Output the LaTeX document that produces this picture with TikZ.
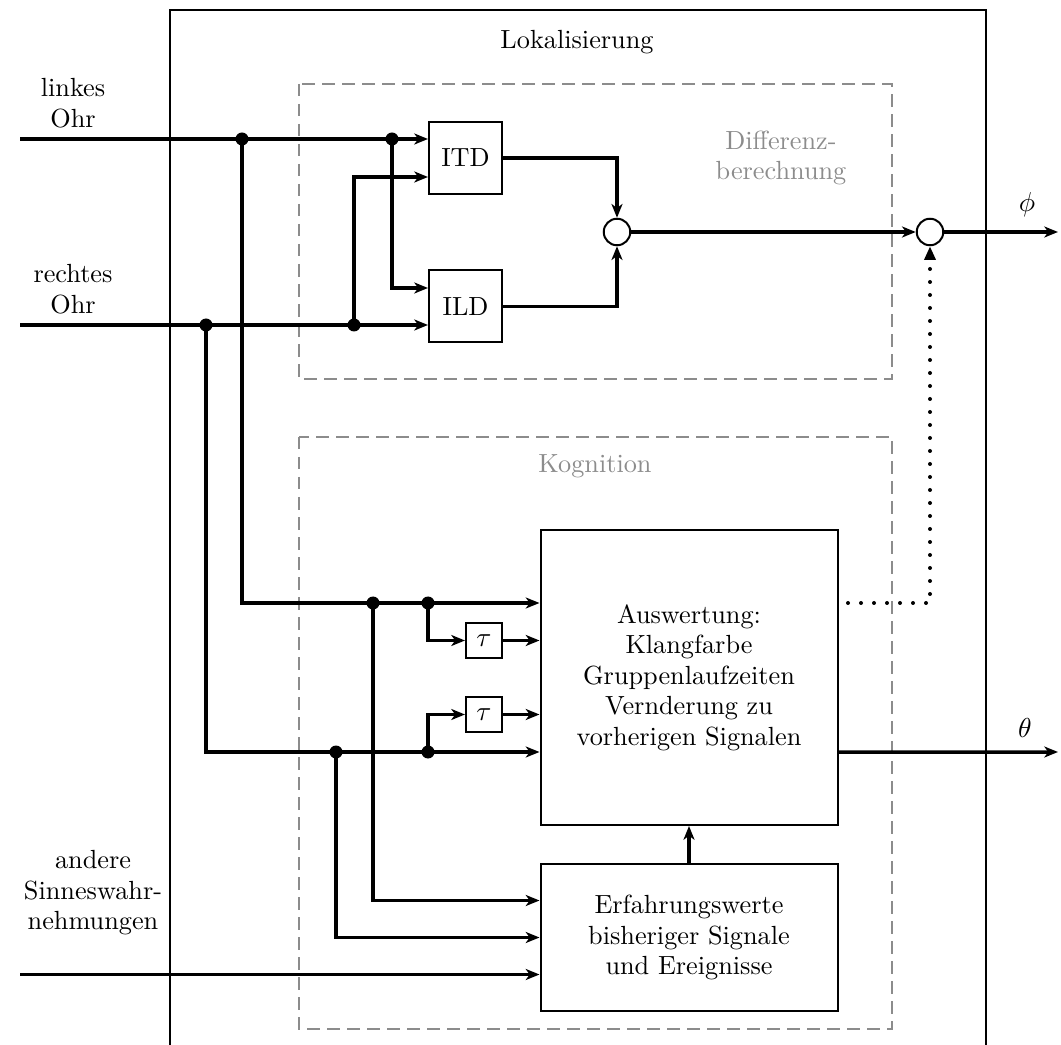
\documentclass[tikz,border=0pt]{standalone}
\usetikzlibrary{arrows.meta}
\begin{document}
\begin{tikzpicture}[x=0.4pt,y=-0.4pt,
  every node/.style={font=\fontsize{10.5}{12.2}\selectfont},
  sig/.style={line width=1.4pt},
  arr/.style={sig,-{Stealth[length=5.5pt,width=4.4pt,inset=1.6pt]}},
  blk/.style={draw,line width=0.8pt,inner sep=0pt,align=center,fill=white},
  sumc/.style={draw,circle,line width=0.8pt,minimum size=10.6pt,inner sep=0pt,fill=white},
  grpbox/.style={draw=black!45,line width=0.8pt,dash pattern=on 5pt off 3pt},
  grplabel/.style={text=black!45,align=center},
  dotline/.style={line width=1.6pt,line cap=round,dash pattern=on 0pt off 5.2pt,
    -{Stealth[length=5.5pt,width=4.4pt,inset=0pt]}},
  jdot/.style={fill=black},
  lbl/.style={align=center}]
\useasboundingbox (0,0) rectangle (1061,1045);
% outer frame
\draw[line width=0.8pt] (170,1045) -- (170,10) -- (986,10) -- (986,1045);
\node (lok) at (577,42) {Lokalisierung};
% groups
\draw[grpbox] (299,84) rectangle (892,379);
\draw[grpbox] (299,437) rectangle (892,1029);
\node[grplabel] (diff) at (781,158) {Differenz-\\berechnung};
\node[grplabel] (kog) at (595,466) {Kognition};
% input labels
\node[lbl] (lL) at (73,103) {linkes\\Ohr};
\node[lbl] (lR) at (73,289) {rechtes\\Ohr};
\node[lbl] (lA) at (93,893) {andere\\Sinneswahr-\\nehmungen};
% blocks
\node[blk,minimum width=29.2pt,minimum height=28.8pt] (ITD) at (465.5,158) {ITD};
\node[blk,minimum width=29.2pt,minimum height=28.8pt] (ILD) at (465.5,306.5) {ILD};
\node[sumc] (c1) at (617,232) {};
\node[sumc] (c2) at (930,232) {};
\node[blk,minimum width=14.4pt,minimum height=14pt] (tau1) at (484,640.5) {$\tau$};
\node[blk,minimum width=14.4pt,minimum height=14pt] (tau2) at (484,714.5) {$\tau$};
\node[blk,minimum width=118.8pt,minimum height=118pt] (Ausw) at (689,677.5)
  {Auswertung:\\Klangfarbe\\Gruppenlaufzeiten\\Vernderung zu\\vorherigen Signalen};
\node[blk,minimum width=118.8pt,minimum height=58.8pt] (Erf) at (689,937.5)
  {Erfahrungswerte\\bisheriger Signale\\und Ereignisse};
% coordinates
\coordinate (inL) at (20,139);
\coordinate (inR) at (20,325);
\coordinate (inA) at (20,974.5);
\coordinate (j1) at (242,139);
\coordinate (j2) at (392,139);
\coordinate (j3) at (206,325);
\coordinate (j4) at (354,325);
\coordinate (j5) at (373,603);
\coordinate (j6) at (428,603);
\coordinate (j7) at (336,752);
\coordinate (j8) at (428,752);
\coordinate (dotS) at (848,603);
\coordinate (phiE) at (1058,232);
\coordinate (thE) at (1058,752);
% connectors
\draw[arr] (inL) -- (ITD.west |- inL);
\draw[arr] (inR) -- (ILD.west |- inR);
\draw[arr] (j4) |- ([yshift=-7.6pt]ITD.west);
\draw[arr] (j2) |- ([yshift=7.4pt]ILD.west);
\draw[arr] (ITD.east) -| (c1.north);
\draw[arr] (ILD.east) -| (c1.south);
\draw[arr] (c1) -- (c2);
\draw[arr] (c2) -- (phiE);
\node (phi) at (1027,205) {$\phi$};
\draw[dotline] (dotS) -| (c2.south);
\draw[arr] (j1) |- ([yshift=29.8pt]Ausw.west);
\draw[arr] (j3) |- ([yshift=-29.8pt]Ausw.west);
\draw[arr] (j6) |- (tau1.west);
\draw[arr] (tau1.east) -- (Ausw.west |- tau1);
\draw[arr] (j8) |- (tau2.west);
\draw[arr] (tau2.east) -- (Ausw.west |- tau2);
\draw[arr] (j5) |- ([yshift=14.8pt]Erf.west);
\draw[arr] (j7) |- (Erf.west);
\draw[arr] (inA) -- (Erf.west |- inA);
\draw[arr] (Erf.north) -- (Ausw.south);
\draw[arr] ([yshift=-29.8pt]Ausw.east) -- (thE);
\node (theta) at (1025,728) {$\theta$};
% junction dots
\foreach \j in {j1,j2,j3,j4,j5,j6,j7,j8} \fill[jdot] (\j) circle (2.6pt);
\end{tikzpicture}
\end{document}
